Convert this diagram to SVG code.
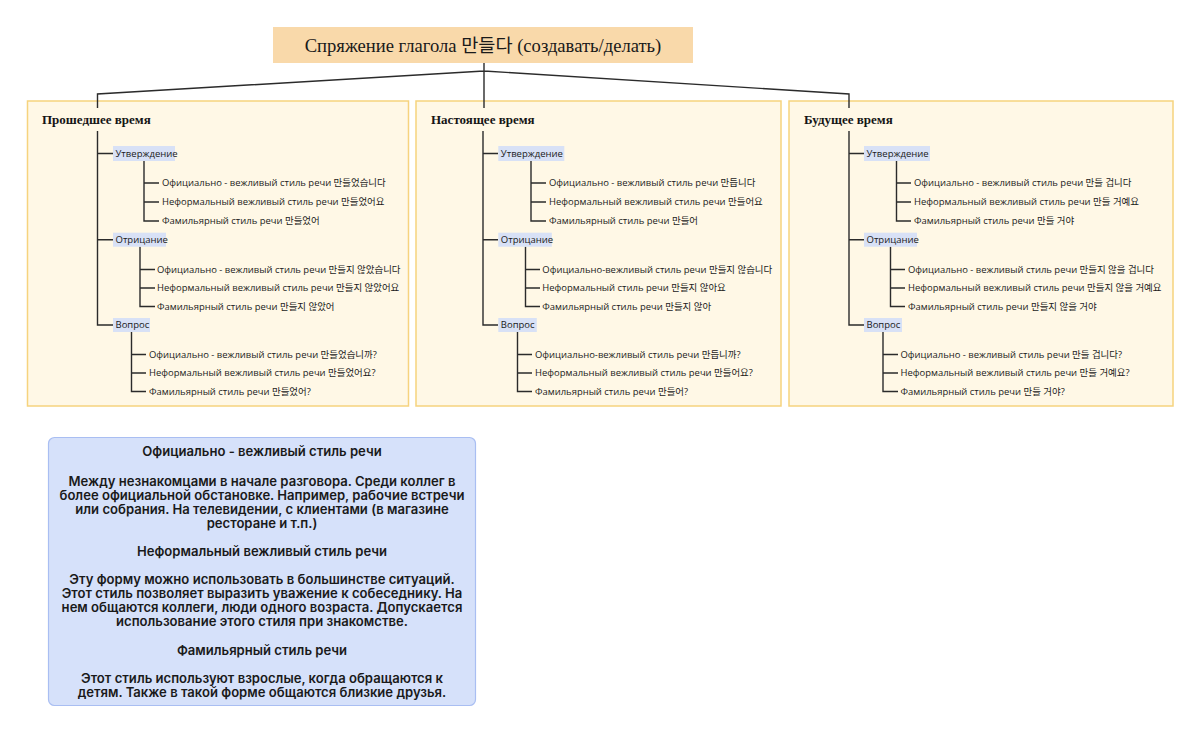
<svg xmlns="http://www.w3.org/2000/svg" width="1200" height="734" viewBox="0 0 1200 734">
<style>
.conn{stroke:#2b2b2b;stroke-width:1.4;fill:none}
.col{fill:#FFF8E6;stroke:#F6D37E;stroke-width:1.5}
.hdr{font-family:"Liberation Serif","Noto Sans CJK KR",serif;font-weight:bold;font-size:13px;fill:#151515}
.title{font-family:"Liberation Serif","Noto Sans CJK KR",serif;font-size:18.6px;fill:#1a1a1a}
.lab{fill:#D8E1F6}
.lt{font-family:"Open Sans","Noto Sans CJK KR",sans-serif;font-size:9.5px;fill:#1a1a1a}
.lf{font-family:"Open Sans","Noto Sans CJK KR",sans-serif;font-size:9.45px;fill:#1a1a1a}
.note{font-family:"Inter","Noto Sans CJK KR",sans-serif;font-size:13.1px;font-weight:600;fill:#1a1a1a;text-anchor:middle}
</style>
<rect width="1200" height="734" fill="#ffffff"/>

<g id="title">
<rect x="273" y="27" width="420" height="36" fill="#F9D9AA"/>
<text class="title" x="483" y="52" text-anchor="middle">Спряжение глагола 만들다 (создавать/делать)</text>
</g>

<g id="col-past">
<rect class="col" x="27.5" y="101" width="381" height="305"/>
<text class="hdr" x="42" y="124">Прошедшее время</text>
</g>
<g id="col-present">
<rect class="col" x="416" y="101" width="365" height="305"/>
<text class="hdr" x="431" y="124">Настоящее время</text>
</g>
<g id="col-future">
<rect class="col" x="789" y="101" width="384" height="305"/>
<text class="hdr" x="804" y="124">Будущее время</text>
</g>

<g id="connectors">
<path class="conn" d="M484 63V71M484 71L97.5 94V108M484 71L849 94V108M484 71V108"/>
<!-- col1 -->
<path class="conn" d="M97.5 131V325H113M97.5 153.5H113M97.5 239.7H113"/>
<path class="conn" d="M144 161V221H159M144 183H159M144 202H159"/>
<path class="conn" d="M140 246.7V306.5H155M140 269.5H155M140 288H155"/>
<path class="conn" d="M131.5 332V391.5H146M131.5 354.5H146M131.5 373H146"/>
<!-- col2 -->
<path class="conn" d="M483 131V325H498M483 153.5H498M483 239.7H498"/>
<path class="conn" d="M531 161V221H546M531 183H546M531 202H546"/>
<path class="conn" d="M525.5 246.7V306.5H540M525.5 269.5H540M525.5 288H540"/>
<path class="conn" d="M517.5 332V391.5H532M517.5 354.5H532M517.5 373H532"/>
<!-- col3 -->
<path class="conn" d="M849 131V325H864M849 153.5H864M849 239.7H864"/>
<path class="conn" d="M896.5 161V221H911M896.5 183H911M896.5 202H911"/>
<path class="conn" d="M890.5 246.7V306.5H905M890.5 269.5H905M890.5 288H905"/>
<path class="conn" d="M883 332V391.5H898M883 354.5H898M883 373H898"/>
</g>

<g id="past-affirm">
<rect class="lab" x="113" y="146" width="62" height="15"/>
<text class="lt" x="115.5" y="157">Утверждение</text>
<text class="lf" x="162" y="186.4">Официально - вежливый стиль речи 만들었습니다</text>
<text class="lf" x="162" y="205.4">Неформальный вежливый стиль речи 만들었어요</text>
<text class="lf" x="162" y="224.4">Фамильярный стиль речи 만들었어</text>
</g>
<g id="past-neg">
<rect class="lab" x="113" y="232.7" width="53" height="14"/>
<text class="lt" x="115.5" y="243">Отрицание</text>
<text class="lf" x="157" y="272.9">Официально - вежливый стиль речи  만들지 않았습니다</text>
<text class="lf" x="157" y="291.4">Неформальный вежливый стиль речи 만들지 않았어요</text>
<text class="lf" x="157" y="309.9">Фамильярный стиль речи 만들지 않았어</text>
</g>
<g id="past-q">
<rect class="lab" x="113" y="318" width="37" height="14"/>
<text class="lt" x="115.5" y="328.3">Вопрос</text>
<text class="lf" x="149" y="357.9">Официально - вежливый стиль речи 만들었습니까?</text>
<text class="lf" x="149" y="376.4">Неформальный вежливый стиль речи 만들었어요?</text>
<text class="lf" x="149" y="394.9">Фамильярный стиль речи 만들었어?</text>
</g>

<g id="present-affirm">
<rect class="lab" x="498.3" y="146" width="66" height="15"/>
<text class="lt" x="500.8" y="157">Утверждение</text>
<text class="lf" x="549" y="186.4">Официально - вежливый стиль речи 만듭니다</text>
<text class="lf" x="549" y="205.4">Неформальный вежливый стиль речи 만들어요</text>
<text class="lf" x="549" y="224.4">Фамильярный стиль речи 만들어</text>
</g>
<g id="present-neg">
<rect class="lab" x="498.3" y="232.7" width="53.5" height="14"/>
<text class="lt" x="500.8" y="243">Отрицание</text>
<text class="lf" x="542.3" y="272.9">Официально-вежливый стиль речи 만들지 않습니다</text>
<text class="lf" x="542.3" y="291.4">Неформальный стиль речи 만들지 않아요</text>
<text class="lf" x="542.3" y="309.9">Фамильярный стиль речи 만들지 않아</text>
</g>
<g id="present-q">
<rect class="lab" x="498.3" y="318" width="38.5" height="14"/>
<text class="lt" x="500.8" y="328.3">Вопрос</text>
<text class="lf" x="535" y="357.9">Официально-вежливый стиль речи 만듭니까?</text>
<text class="lf" x="535" y="376.4">Неформальный вежливый стиль речи 만들어요?</text>
<text class="lf" x="535" y="394.9">Фамильярный стиль речи 만들어?</text>
</g>

<g id="future-affirm">
<rect class="lab" x="864" y="146" width="66" height="15"/>
<text class="lt" x="866.5" y="157">Утверждение</text>
<text class="lf" x="914" y="186.4">Официально - вежливый стиль речи 만들 겁니다</text>
<text class="lf" x="914" y="205.4">Неформальный вежливый стиль речи 만들 거예요</text>
<text class="lf" x="914" y="224.4">Фамильярный стиль речи 만들 거야</text>
</g>
<g id="future-neg">
<rect class="lab" x="864" y="232.7" width="53" height="14"/>
<text class="lt" x="866.5" y="243">Отрицание</text>
<text class="lf" x="908" y="272.9">Официально - вежливый стиль речи  만들지 않을 겁니다</text>
<text class="lf" x="908" y="291.4">Неформальный вежливый стиль речи 만들지 않을 거예요</text>
<text class="lf" x="908" y="309.9">Фамильярный стиль речи 만들지 않을 거야</text>
</g>
<g id="future-q">
<rect class="lab" x="864" y="318" width="38" height="14"/>
<text class="lt" x="866.5" y="328.3">Вопрос</text>
<text class="lf" x="900.5" y="357.9">Официально - вежливый стиль речи 만들 겁니다?</text>
<text class="lf" x="900.5" y="376.4">Неформальный вежливый стиль речи 만들 거예요?</text>
<text class="lf" x="900.5" y="394.9">Фамильярный стиль речи 만들 거야?</text>
</g>

<g id="note">
<rect x="48.5" y="437.5" width="427" height="268" rx="6" fill="#D6E1FA" stroke="#A9BEF2" stroke-width="1.2"/>
<text class="note" x="262" y="456">Официально - вежливый стиль речи</text>
<text class="note" x="262" y="486">Между незнакомцами в начале разговора. Среди коллег в</text>
<text class="note" x="262" y="500">более официальной обстановке. Например, рабочие встречи</text>
<text class="note" x="262" y="514">или собрания. На телевидении, с клиентами (в магазине</text>
<text class="note" x="262" y="528">ресторане и т.п.)</text>
<text class="note" x="262" y="556">Неформальный вежливый стиль речи</text>
<text class="note" x="262" y="584">Эту форму можно использовать в большинстве ситуаций.</text>
<text class="note" x="262" y="598">Этот стиль позволяет выразить уважение к собеседнику. На</text>
<text class="note" x="262" y="612">нем общаются коллеги, люди одного возраста. Допускается</text>
<text class="note" x="262" y="626">использование этого стиля при знакомстве.</text>
<text class="note" x="262" y="655">Фамильярный стиль речи</text>
<text class="note" x="262" y="683">Этот стиль используют взрослые, когда обращаются к</text>
<text class="note" x="262" y="697">детям. Также в такой форме общаются близкие друзья.</text>
</g>
</svg>
